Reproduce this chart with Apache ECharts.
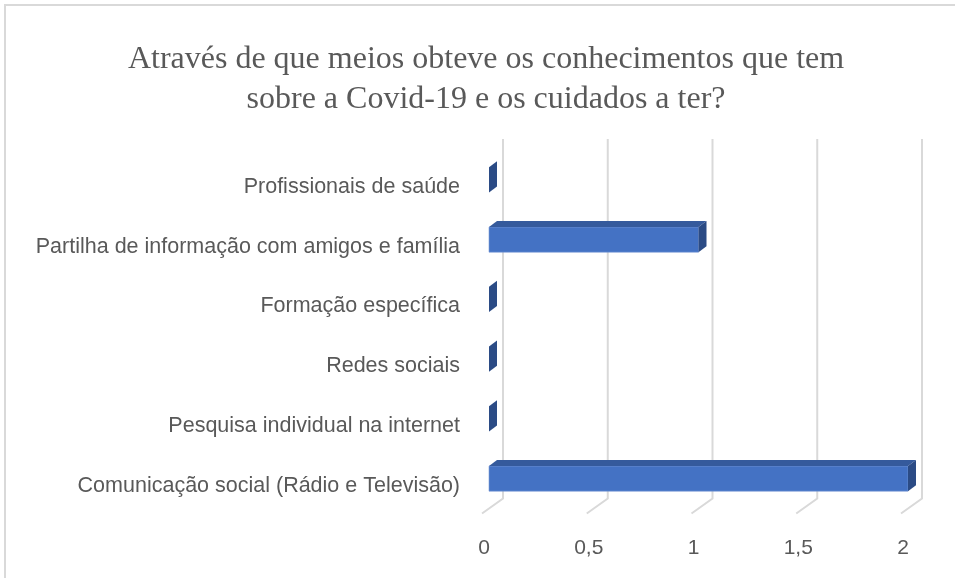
<!DOCTYPE html>
<html>
<head>
<meta charset="utf-8">
<script src="https://cdn.jsdelivr.net/npm/echarts@6/dist/echarts.min.js"></script>
<style>
  html, body { margin: 0; padding: 0; background: #fff; }
  #chart { width: 955px; height: 578px; }
</style>
</head>
<body>
<div id="chart"></div>
<script>
// categorias de baixo para cima
const categories = [
  'Comunicação social (Rádio e Televisão)',
  'Pesquisa individual na internet',
  'Redes sociais',
  'Formação específica',
  'Partilha de informação com amigos e família',
  'Profissionais de saúde'
];
const values = [2, 0, 0, 0, 1, 0];
const ticks = [0, 0.5, 1, 1.5, 2];

// efeito 3D (pixels)
const depthX = 8, depthY = -6;
const wallX = 14, floorX = -7;

const chart = echarts.init(document.getElementById('chart'));

chart.setOption({
  animation: false,
  graphic: [
    {
      type: 'rect',
      shape: { x: 5, y: 5, width: 1200, height: 1000 },
      style: { fill: 'none', stroke: '#d9d9d9', lineWidth: 2 }
    },
    {
      type: 'text',
      x: 486,
      y: 80,
      style: {
        text: 'Através de que meios obteve os conhecimentos que tem\nsobre a Covid-19 e os cuidados a ter?',
        font: '32px "Liberation Serif"',
        fill: '#595959',
        align: 'center',
        verticalAlign: 'middle',
        lineHeight: 40
      }
    }
  ],
  grid: [
    { left: 489, top: 150, width: 419, height: 358.5 },
    { left: 484, top: 139, width: 419, height: 374 },
    // rótulos das categorias, no plano da frente
    { left: 489, top: 157, width: 419, height: 358.5 }
  ],
  xAxis: [
    {
      gridIndex: 0, type: 'value', min: 0, max: 2, interval: 0.5,
      axisLine: { show: false }, axisTick: { show: false },
      axisLabel: { show: false }, splitLine: { show: false }
    },
    {
      gridIndex: 1, type: 'value', min: 0, max: 2, interval: 0.5,
      axisLine: { show: false }, axisTick: { show: false },
      splitLine: { show: false },
      axisLabel: {
        margin: 25,
        fontSize: 21,
        fontFamily: 'Liberation Sans',
        color: '#595959',
        formatter: v => String(v).replace('.', ',')
      }
    },
    { gridIndex: 2, type: 'value', show: false }
  ],
  yAxis: [
    {
      gridIndex: 0, type: 'category', data: categories,
      axisLine: { show: false }, axisTick: { show: false },
      axisLabel: { show: false }, splitLine: { show: false }
    },
    { gridIndex: 1, type: 'value', show: false },
    {
      gridIndex: 2, type: 'category', data: categories,
      axisLine: { show: false }, axisTick: { show: false },
      splitLine: { show: false },
      axisLabel: {
        margin: 29,
        fontSize: 21.5,
        fontFamily: 'Liberation Sans',
        color: '#595959'
      }
    }
  ],
  series: [
    {
      // linhas de grelha (parede do fundo + chão)
      type: 'custom',
      xAxisIndex: 0,
      yAxisIndex: 0,
      z: 1,
      data: ticks.map(v => [v, 0]),
      renderItem: function (params, api) {
        const cs = params.coordSys;
        const x = api.coord([api.value(0), 0])[0];
        const top = cs.y - 11;
        const back = cs.y + cs.height - 10;
        return {
          type: 'polyline',
          shape: {
            points: [
              [x + wallX, top],
              [x + wallX, back],
              [x + floorX, back + 15]
            ]
          },
          style: { stroke: '#d9d9d9', lineWidth: 2, fill: 'none' }
        };
      }
    },
    {
      type: 'custom',
      xAxisIndex: 0,
      yAxisIndex: 0,
      z: 2,
      data: values.map((v, i) => [v, i]),
      renderItem: function (params, api) {
        const v = api.value(0);
        const i = api.value(1);
        const x0 = api.coord([0, i])[0];
        const p = api.coord([v, i]);
        const x1 = p[0];
        const h = api.size([0, 1])[1] * 0.42;
        const yt = p[1] - h / 2;
        const yb = p[1] + h / 2;
        const children = [];
        if (x1 - x0 > 0.5) {
          children.push({
            type: 'rect',
            shape: { x: x0, y: yt, width: x1 - x0, height: h },
            style: { fill: '#4472C4', stroke: '#7a9ad6', lineWidth: 0.6 }
          });
          children.push({
            type: 'polygon',
            shape: { points: [[x0, yt], [x0 + depthX, yt + depthY], [x1 + depthX, yt + depthY], [x1, yt]] },
            style: { fill: '#355a9c' }
          });
        }
        children.push({
          type: 'polygon',
          shape: { points: [[x1, yt], [x1 + depthX, yt + depthY], [x1 + depthX, yb + depthY], [x1, yb]] },
          style: { fill: '#2b4b85' }
        });
        return { type: 'group', children: children };
      }
    }
  ]
});
</script>
</body>
</html>
